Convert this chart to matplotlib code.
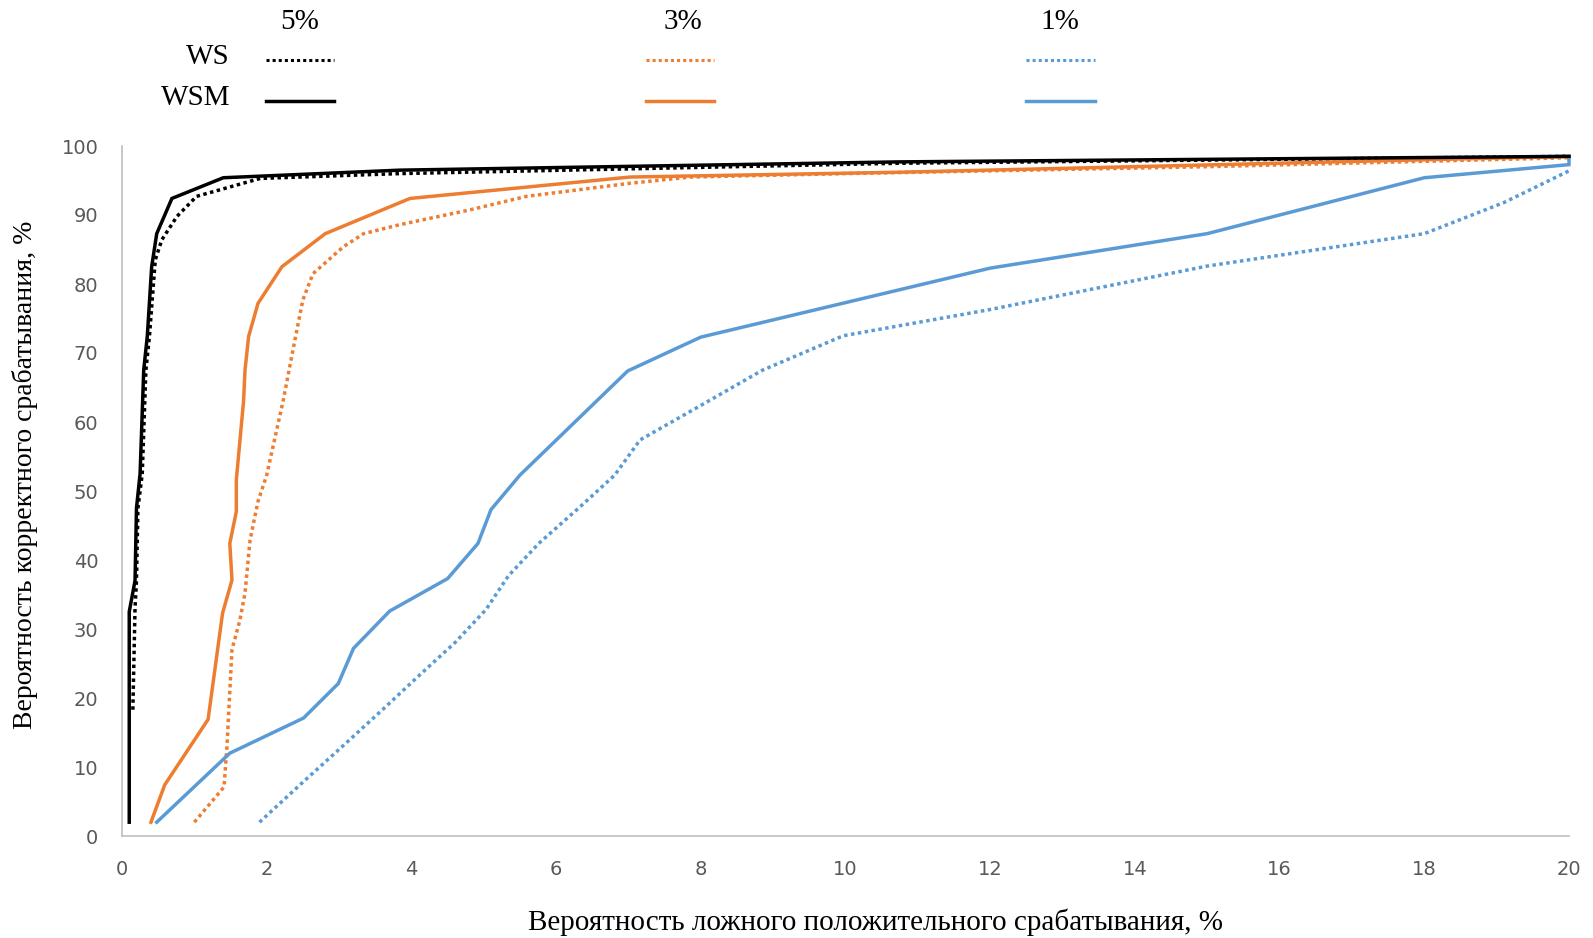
import matplotlib
matplotlib.use("Agg")
import matplotlib.pyplot as plt
from matplotlib.lines import Line2D

# ROC-style curves: false positive rate (%) vs. correct detection rate (%)
ws5_x = [0.15, 0.18, 0.2, 0.22, 0.28, 0.33, 0.38, 0.46, 0.55, 0.76, 1.03, 1.91, 3.84, 10.75, 20]
ws5_y = [18.3, 33, 37, 47.5, 52.5, 67.5, 72.5, 83.5, 86.4, 89.8, 92.7, 95.3, 96.0, 97.5, 98.5]

wsm5_x = [0.1, 0.1, 0.18, 0.2, 0.25, 0.3, 0.35, 0.41, 0.48, 0.69, 1.4, 3.84, 10.75, 20]
wsm5_y = [2, 32.5, 37, 47.5, 52.5, 67.5, 72.5, 82.5, 87.3, 92.4, 95.4, 96.5, 97.7, 98.5]

ws3_x = [1.0, 1.41, 1.45, 1.52, 1.63, 1.7, 1.77, 1.88, 2.0, 2.23, 2.39, 2.5, 2.64, 3.06, 3.34,
         3.84, 4.79, 5.59, 7.02, 7.85, 10, 15, 20]
ws3_y = [2, 7.1, 12.9, 27, 31.3, 35.2, 42.9, 48.5, 52.3, 63.2, 71.9, 77.7, 81.5, 85.4, 87.3,
         88.6, 90.7, 92.7, 94.6, 95.5, 96.0, 97.0, 98.3]

wsm3_x = [0.4, 0.59, 1.19, 1.39, 1.52, 1.49, 1.58, 1.58, 1.68, 1.7, 1.75, 1.88, 2.21, 2.81,
          3.98, 7.02, 10.75, 20]
wsm3_y = [2, 7.4, 16.9, 32.3, 37.1, 42.4, 47, 51.6, 63, 67.5, 72.4, 77.2, 82.5, 87.3,
          92.4, 95.5, 96.2, 98.5]

ws1_x = [1.9, 2.5, 3.1, 3.6, 4.1, 4.6, 5.03, 5.34, 5.76, 6.32, 6.81, 7.16, 8.0, 8.85, 9.97,
         12.0, 15.0, 18.0, 19.1, 20]
ws1_y = [2, 7.8, 13.5, 18.3, 23.2, 28, 32.8, 37.7, 42.4, 47.6, 52.3, 57.4, 62.4, 67.5, 72.5,
         76.3, 82.6, 87.3, 91.8, 96.4]

wsm1_x = [0.48, 1.49, 2.51, 2.99, 3.2, 3.7, 4.5, 4.92, 5.1, 5.5, 6.99, 8.0, 12.0, 15.0, 18.0, 20, 20]
wsm1_y = [2, 12, 17.1, 22.1, 27.2, 32.6, 37.3, 42.4, 47.3, 52.3, 67.4, 72.3, 82.3, 87.3, 95.4,
          97.3, 98.4]

x_ticks = list(range(0, 21, 2))
y_ticks = list(range(0, 101, 10))

BLACK = "#000000"
ORANGE = "#ED7D31"
BLUE = "#5B9BD5"
LW = 2.5
DOT = (0, (1, 1))

fig = plt.figure(figsize=(15.93, 9.38), dpi=100)
ax = fig.add_axes([122 / 1593, 1 - 836 / 938, (1569 - 122) / 1593, (836 - 146) / 938])

series = [
    (ws5_x, ws5_y, BLACK, DOT),
    (ws3_x, ws3_y, ORANGE, DOT),
    (ws1_x, ws1_y, BLUE, DOT),
    (wsm1_x, wsm1_y, BLUE, "-"),
    (wsm3_x, wsm3_y, ORANGE, "-"),
    (wsm5_x, wsm5_y, BLACK, "-"),
]
for xs, ys, c, ls in series:
    ax.plot(xs, ys, color=c, lw=LW, linestyle=ls, solid_joinstyle="miter",
            dash_capstyle="butt", clip_on=False)

ax.set_xlim(0, 20)
ax.set_ylim(0, 100)
ax.set_xticks(x_ticks)
ax.set_yticks(y_ticks)
ax.tick_params(length=0, labelsize=14, labelcolor="#595959")
ax.tick_params(axis="y", pad=17)
ax.tick_params(axis="x", pad=17)
for s in ["top", "right"]:
    ax.spines[s].set_visible(False)
for s in ["left", "bottom"]:
    ax.spines[s].set_color("#BFBFBF")
    ax.spines[s].set_linewidth(1.2)

serif = "Liberation Serif"
fig.text(876 / 1593, 1 - 922 / 938, "Вероятность ложного положительного срабатывания, %",
         ha="center", va="center", fontsize=21, family=serif)
fig.text(25 / 1593, 1 - 475 / 938, "Вероятность корректного срабатывания, %",
         ha="center", va="center", rotation=90, fontsize=20, family=serif)

# Legend grid: columns are thresholds, rows are methods
col_titles = ["5%", "3%", "1%"]
col_x = [300, 683, 1060]
col_colors = [BLACK, ORANGE, BLUE]
seg_x = [(266, 334), (646, 714), (1026, 1095)]
row_names = ["WS", "WSM"]
row_y = [60, 101]
row_styles = [DOT, "-"]

for t, cx in zip(col_titles, col_x):
    fig.text(cx / 1593, 1 - 22 / 938, t, ha="center", va="center", fontsize=21, family=serif)
for name, ry in zip(row_names, row_y):
    fig.text(230 / 1593, 1 - (ry - 3) / 938, name, ha="right", va="center",
             fontsize=21, family=serif)
for (x0, x1), c in zip(seg_x, col_colors):
    for ry, ls in zip(row_y, row_styles):
        fig.add_artist(Line2D([x0 / 1593, x1 / 1593], [1 - ry / 938, 1 - ry / 938],
                              transform=fig.transFigure, color=c, lw=LW if ls == "-" else 2.2,
                              linestyle=ls, dash_capstyle="butt"))

fig.savefig("out.png", dpi=100, facecolor="white")
